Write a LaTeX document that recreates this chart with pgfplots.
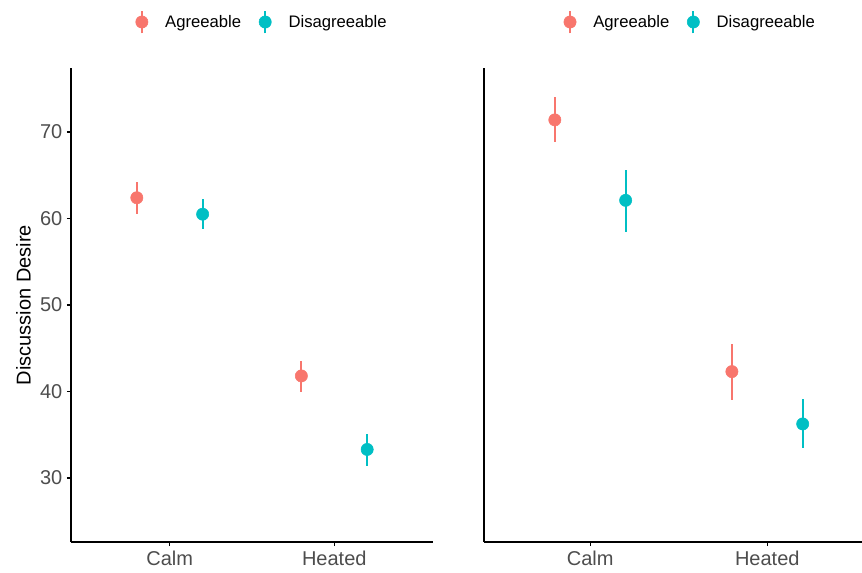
\documentclass[border=0pt]{standalone}
\usepackage{pgfplots}
\pgfplotsset{compat=1.18}
\usepackage{pgfplotstable}
\usepackage{fontspec}
\setmainfont{Liberation Sans}
\definecolor{agr}{HTML}{F8766D}
\definecolor{dis}{HTML}{00BFC4}
\definecolor{tickgrey}{HTML}{4D4D4D}

% x: Calm=1, Heated=2 ; dodge +-0.2 ; ep/em = upper/lower error
\pgfplotstableread{
x   y     ep    em
0.8 62.4  1.80  1.90
1.8 41.8  1.70  1.80
}\leftagr
\pgfplotstableread{
x   y     ep    em
1.2 60.5  1.80  1.70
2.2 33.3  1.80  1.90
}\leftdis
\pgfplotstableread{
x   y     ep    em
0.8 71.4  2.65  2.60
1.8 42.3  3.20  3.25
}\rightagr
\pgfplotstableread{
x   y     ep    em
1.2 62.1  3.50  3.70
2.2 36.25 2.90  2.80
}\rightdis

\pgfplotsset{
  panel/.style={
    scale only axis,
    height=355.5pt,
    ymin=22.6, ymax=77.4,
    xmin=0.4,
    axis x line=bottom, axis y line=left,
    axis line style={-, line width=0.8pt, black},
    tick align=outside,
    major tick length=3pt,
    tick style={line width=0.8pt, black},
    xtick={1,2}, xticklabels={Calm,Heated},
    /pgf/number format/assume math mode=true,
    ticklabel style={font=\fontsize{15}{18}\selectfont, text=tickgrey},
    label style={font=\fontsize{15}{18}\selectfont},
    legend columns=2,
    legend style={draw=none, fill=none, font=\fontsize{12.5}{15}\selectfont,
      anchor=center, /tikz/every even column/.append style={column sep=7.5pt}},
  },
  errstyle/.style={
    only marks, mark=*, mark size=4.6pt,
    mark options={fill=#1, draw=#1},
    error bars/y dir=both, error bars/y explicit, error bars/error mark=none,
    error bars/error bar style={line width=1.5pt, color=#1},
  },
  agrleg/.style={legend image code/.code={
      \path[draw=none, fill=none] (0pt,0pt) -- (24pt,0pt);
      \draw[line width=1.5pt, agr] (8.5pt,-8.6pt) -- (8.5pt,8.6pt);
      \fill[agr] (8.5pt,0pt) circle (4.6pt);}},
  disleg/.style={legend image code/.code={
      \path[draw=none, fill=none] (0pt,0pt) -- (24pt,0pt);
      \draw[line width=1.5pt, dis] (8.5pt,-8.6pt) -- (8.5pt,8.6pt);
      \fill[dis] (8.5pt,0pt) circle (4.6pt);}},
}

\begin{document}
\begin{tikzpicture}
\useasboundingbox (-53.25pt,-22.5pt) rectangle (593.25pt,406.5pt);
\begin{axis}[panel, at={(0pt,0pt)}, anchor=south west,
  width=271.5pt, xmax=2.6,
  ytick={30,40,50,60,70},
  ylabel={Discussion Desire},
  legend style={at={(0.522,1.097)}}]
\addplot[agrleg, errstyle=agr] table[x=x, y=y, y error plus=ep, y error minus=em] {\leftagr};
\addlegendentry{Agreeable}
\addplot[disleg, errstyle=dis] table[x=x, y=y, y error plus=ep, y error minus=em] {\leftdis};
\addlegendentry{Disagreeable}
\end{axis}
\begin{axis}[panel, at={(309.75pt,0pt)}, anchor=south west,
  width=283.5pt, xmax=2.535,
  ytick=\empty,
  legend style={at={(0.54,1.097)}}]
\addplot[agrleg, errstyle=agr] table[x=x, y=y, y error plus=ep, y error minus=em] {\rightagr};
\addlegendentry{Agreeable}
\addplot[disleg, errstyle=dis] table[x=x, y=y, y error plus=ep, y error minus=em] {\rightdis};
\addlegendentry{Disagreeable}
\end{axis}
\end{tikzpicture}
\end{document}
